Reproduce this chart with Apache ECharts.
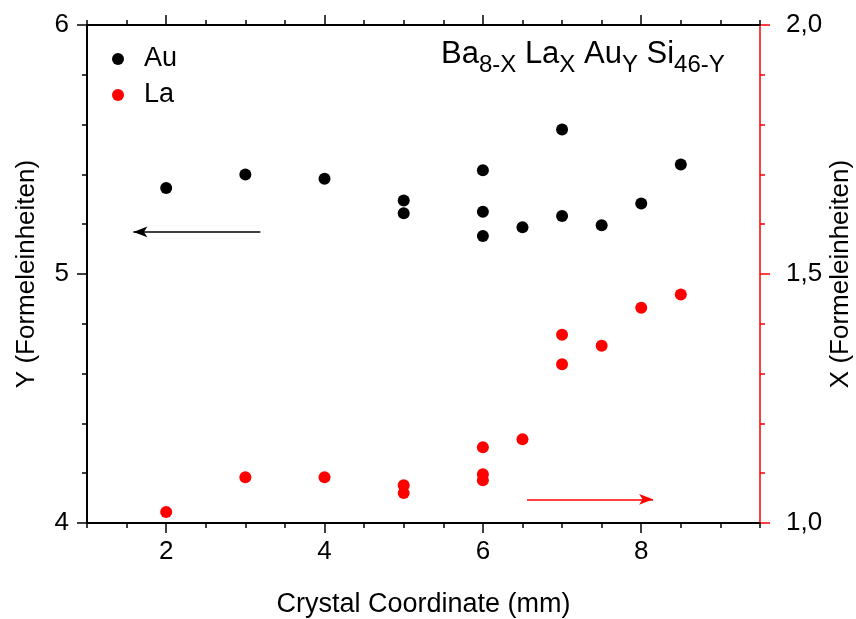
<!DOCTYPE html>
<html>
<head>
<meta charset="utf-8">
<script src="https://cdn.jsdelivr.net/npm/echarts@6/dist/echarts.min.js"></script>
<style>
  html, body { margin: 0; padding: 0; background: #fff; }
  #chart { width: 856px; height: 619px; }
</style>
</head>
<body>
<div id="chart"></div>
<script>
// Crystal coordinate (mm) of each measurement spot
const auPos = [2, 3, 4, 5, 5, 6, 6, 6, 6.5, 7, 7, 7.5, 8, 8.5];
// Au content Y (formula units), left axis
const auY = [5.345, 5.400, 5.383, 5.295, 5.244, 5.417, 5.250, 5.153, 5.188, 5.580, 5.233, 5.196, 5.283, 5.440];
const laPos = [2, 3, 4, 5, 5, 6, 6, 6, 6.5, 7, 7, 7.5, 8, 8.5];
// La content X (formula units), right axis
const laX = [1.022, 1.092, 1.092, 1.076, 1.060, 1.152, 1.098, 1.086, 1.168, 1.378, 1.319, 1.356, 1.432, 1.459];

// Tick labels
const xTicks = [2, 4, 6, 8];
const yLeftTicks = [4, 5, 6];
const yRightTicks = [1.0, 1.5, 2.0];

// Arrows pointing to the axis each series belongs to
const auArrow = { from: [3.19, 5.169], to: [1.586, 5.169] };
const laArrow = { from: [6.557, 1.0475], to: [8.15, 1.0475] };

const FONT = '"Liberation Sans", Arial, sans-serif';
const RED = '#ff0000';

function majorX(position, withLine, withLabel) {
  return {
    type: 'value', position: position, min: 1, max: 9.5,
    axisLine: { show: withLine, onZero: false, lineStyle: { color: '#000', width: 2 } },
    axisTick: { show: true, customValues: xTicks, length: 10, lineStyle: { color: '#000', width: 1.5 } },
    axisLabel: { show: withLabel, customValues: xTicks, margin: 16, color: '#000', fontSize: 26, fontFamily: FONT },
    splitLine: { show: false }
  };
}
function minorX(position) {
  return {
    type: 'value', position: position, min: 1, max: 9.5, interval: 0.5,
    axisLine: { show: false, onZero: false },
    axisTick: { show: true, length: 5, lineStyle: { color: '#000', width: 1.5 } },
    axisLabel: { show: false },
    splitLine: { show: false }
  };
}

const option = {
  animation: false,
  backgroundColor: '#fff',
  grid: { left: 87, right: 96, top: 25, bottom: 96, containLabel: false, outerBoundsMode: 'none' },
  title: {
    text: '{m|Ba}{s|8-X}{m| La}{s|X}{m| Au}{s|Y}{m| Si}{s|46-Y}',
    left: 441, top: 31, padding: 0,
    textStyle: {
      fontWeight: 'normal',
      rich: {
        m: { fontSize: 31, fontWeight: 'normal', fontFamily: FONT, color: '#000', lineHeight: 46, verticalAlign: 'middle' },
        s: { fontSize: 24, fontWeight: 'normal', fontFamily: FONT, color: '#000', lineHeight: 46, verticalAlign: 'bottom' }
      }
    }
  },
  legend: {
    orient: 'vertical', left: 112, top: 45, padding: 0,
    itemWidth: 42, itemHeight: 12, itemGap: 8,
    icon: 'circle',
    textStyle: { fontSize: 27, fontFamily: FONT, color: '#000', lineHeight: 28 },
    data: ['Au', 'La']
  },
  xAxis: [
    Object.assign(majorX('bottom', true, true), {
      name: 'Crystal Coordinate (mm)', nameLocation: 'middle', nameGap: 68, nameMoveOverlap: false,
      nameTextStyle: { fontSize: 27, fontFamily: FONT, color: '#000' }
    }),
    minorX('bottom'),
    majorX('top', true, false),
    minorX('top')
  ],
  yAxis: [
    {
      type: 'value', position: 'left', min: 4, max: 6, interval: 1,
      name: 'Y (Formeleinheiten)', nameLocation: 'middle', nameGap: 47, nameMoveOverlap: false,
      nameTextStyle: { fontSize: 26, fontFamily: FONT, color: '#000' },
      axisLine: { show: true, onZero: false, lineStyle: { color: '#000', width: 2 } },
      axisTick: { show: true, length: 10, lineStyle: { color: '#000', width: 1.5 } },
      axisLabel: { margin: 18, color: '#000', fontSize: 26, fontFamily: FONT,
        formatter: v => yLeftTicks.includes(v) ? String(v) : '' },
      splitLine: { show: false }
    },
    {
      type: 'value', position: 'left', min: 4, max: 6, interval: 0.2,
      axisLine: { show: false, onZero: false },
      axisTick: { show: true, length: 5, lineStyle: { color: '#000', width: 1.5 } },
      axisLabel: { show: false },
      splitLine: { show: false }
    },
    {
      type: 'value', position: 'right', min: 1, max: 2, interval: 0.5,
      name: 'X (Formeleinheiten)', nameLocation: 'middle', nameGap: 68, nameMoveOverlap: false,
      nameTextStyle: { fontSize: 26, fontFamily: FONT, color: '#000' },
      axisLine: { show: true, onZero: false, lineStyle: { color: RED, width: 1.5 } },
      axisTick: { show: true, length: 10, lineStyle: { color: RED, width: 1.5 } },
      axisLabel: { margin: 26, color: '#000', fontSize: 26, fontFamily: FONT,
        formatter: v => yRightTicks.some(t => Math.abs(t - v) < 1e-9) ? v.toFixed(1).replace('.', ',') : '' },
      splitLine: { show: false }
    },
    {
      type: 'value', position: 'right', min: 1, max: 2, interval: 0.1,
      axisLine: { show: false, onZero: false },
      axisTick: { show: true, length: 5, lineStyle: { color: RED, width: 1.5 } },
      axisLabel: { show: false },
      splitLine: { show: false }
    }
  ],
  series: [
    {
      name: 'Au', type: 'scatter', xAxisIndex: 0, yAxisIndex: 0,
      symbol: 'circle', symbolSize: 12,
      itemStyle: { color: '#000', opacity: 1 },
      data: auPos.map((x, i) => [x, auY[i]]),
      markLine: {
        silent: true, animation: false,
        symbol: ['none', 'arrow'], symbolSize: [8, 14],
        label: { show: false },
        lineStyle: { color: '#000', width: 1.5, type: 'solid' },
        data: [[{ coord: auArrow.from }, { coord: auArrow.to }]]
      }
    },
    {
      name: 'La', type: 'scatter', xAxisIndex: 0, yAxisIndex: 2,
      symbol: 'circle', symbolSize: 12,
      itemStyle: { color: RED, opacity: 1 },
      data: laPos.map((x, i) => [x, laX[i]]),
      markLine: {
        silent: true, animation: false,
        symbol: ['none', 'arrow'], symbolSize: [8, 14],
        label: { show: false },
        lineStyle: { color: RED, width: 1.5, type: 'solid' },
        data: [[{ coord: laArrow.from }, { coord: laArrow.to }]]
      }
    }
  ]
};

const chart = echarts.init(document.getElementById('chart'), null, { renderer: 'canvas' });
chart.setOption(option);
</script>
</body>
</html>
